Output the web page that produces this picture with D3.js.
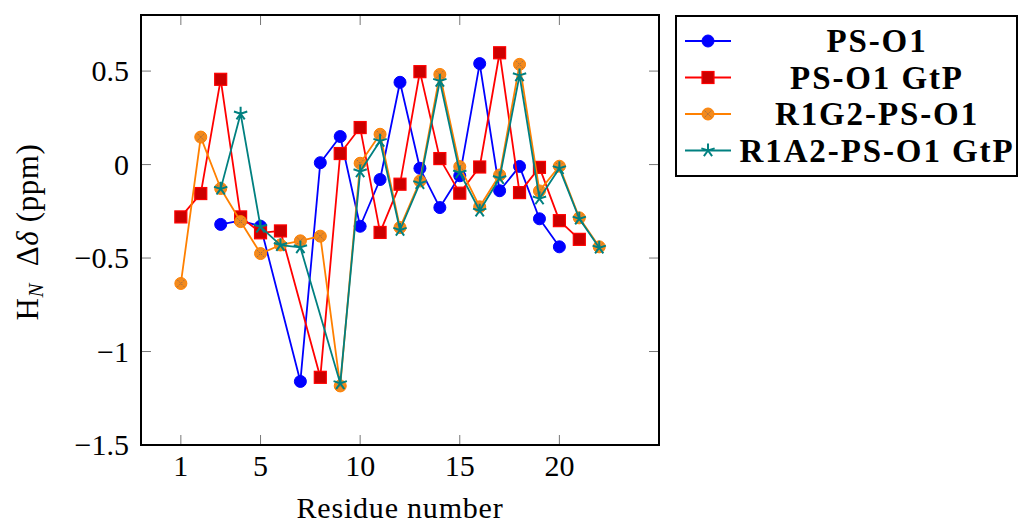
<!DOCTYPE html>
<html>
<head>
<meta charset="utf-8">
<script src="https://cdn.jsdelivr.net/npm/d3@7"></script>
<style>
  html, body { margin: 0; padding: 0; background: #fff; }
  svg { display: block; }
  text { font-family: "Liberation Serif", "Times New Roman", serif; fill: #000; }
</style>
</head>
<body>
<svg id="chart" width="1019" height="524"></svg>
<script>
// Residue numbers and chemical shift differences (ppm) per construct
const psO1Res      = [3, 4, 5, 7, 8, 9, 10, 11, 12, 13, 14, 15, 16, 17, 18, 19, 20];
const psO1Shift    = [-0.32, -0.30, -0.33, -1.16, 0.01, 0.15, -0.33, -0.08, 0.44, -0.02, -0.23, -0.06, 0.54, -0.14, -0.01, -0.29, -0.44];

const psO1GtpRes   = [1, 2, 3, 4, 5, 6, 8, 9, 10, 11, 12, 13, 14, 15, 16, 17, 18, 19, 20, 21];
const psO1GtpShift = [-0.28, -0.155, 0.456, -0.28, -0.365, -0.355, -1.138, 0.059, 0.198, -0.363, -0.105, 0.497, 0.032, -0.153, -0.013, 0.598, -0.15, -0.015, -0.30, -0.40];

const r1g2Res      = [1, 2, 3, 4, 5, 6, 7, 8, 9, 10, 11, 12, 13, 14, 15, 16, 17, 18, 19, 20, 21, 22];
const r1g2Shift    = [-0.636, 0.147, -0.128, -0.305, -0.476, -0.43, -0.408, -0.383, -1.184, 0.007, 0.162, -0.337, -0.088, 0.482, -0.011, -0.226, -0.056, 0.536, -0.141, -0.009, -0.285, -0.44];

const r1a2Res      = [3, 4, 5, 6, 7, 9, 10, 11, 12, 13, 14, 15, 16, 17, 18, 19, 20, 21, 22];
const r1a2Shift    = [-0.13, 0.272, -0.333, -0.431, -0.443, -1.17, -0.037, 0.126, -0.35, -0.10, 0.447, -0.043, -0.247, -0.073, 0.477, -0.182, -0.02, -0.29, -0.445];

const seriesNames  = ["PS-O1", "PS-O1 GtP", "R1G2-PS-O1", "R1A2-PS-O1 GtP"];
const xTickValues  = [1, 5, 10, 15, 20];
const yTickValues  = [-1.5, -1, -0.5, 0, 0.5];

const series = [
  { name: seriesNames[0], res: psO1Res,    val: psO1Shift,    color: "#0000ff", fill: "#0000ff", mark: "circle" },
  { name: seriesNames[1], res: psO1GtpRes, val: psO1GtpShift, color: "#ff0000", fill: "#cc0000", mark: "square" },
  { name: seriesNames[2], res: r1g2Res,    val: r1g2Shift,    color: "#ff8000", fill: "#f28a1e", mark: "otimes" },
  { name: seriesNames[3], res: r1a2Res,    val: r1a2Shift,    color: "#008080", fill: "#008080", mark: "star" }
];

const plot = { left: 141, right: 659, top: 15, bottom: 445 };
const svg = d3.select("#chart");

const x = d3.scaleLinear().domain([-1, 25]).range([plot.left, plot.right]);
const y = d3.scaleLinear().domain([-1.5, 0.8]).range([plot.bottom, plot.top]);

const fmt = v => (v < 0 ? "\u2212" : "") + d3.format("")(Math.abs(v));
const tickLen = 10;

// inward ticks on all four sides
const tickG = svg.append("g").attr("stroke", "#777").attr("stroke-width", 1);
xTickValues.forEach(v => {
  tickG.append("line").attr("x1", x(v)).attr("x2", x(v)).attr("y1", plot.bottom).attr("y2", plot.bottom - tickLen);
  tickG.append("line").attr("x1", x(v)).attr("x2", x(v)).attr("y1", plot.top).attr("y2", plot.top + tickLen);
});
yTickValues.forEach(v => {
  tickG.append("line").attr("x1", plot.left).attr("x2", plot.left + tickLen).attr("y1", y(v)).attr("y2", y(v));
  tickG.append("line").attr("x1", plot.right).attr("x2", plot.right - tickLen).attr("y1", y(v)).attr("y2", y(v));
});

// tick labels
svg.append("g").selectAll("text").data(xTickValues).join("text")
  .attr("x", d => x(d)).attr("y", 476)
  .attr("text-anchor", "middle").attr("font-size", 30)
  .text(fmt);
svg.append("g").selectAll("text").data(yTickValues).join("text")
  .attr("x", 129).attr("y", d => y(d) + 10)
  .attr("text-anchor", "end").attr("font-size", 30)
  .text(fmt);

// axis titles
svg.append("text").attr("x", 400).attr("y", 518)
  .attr("text-anchor", "middle").attr("font-size", 30).attr("letter-spacing", 0.8)
  .text("Residue number");

const yl = svg.append("text")
  .attr("transform", "translate(38,232) rotate(-90)")
  .attr("text-anchor", "middle").attr("font-size", 31).attr("letter-spacing", 0.6);
yl.append("tspan").text("H");
yl.append("tspan").attr("font-size", 21).attr("font-style", "italic").attr("dy", 5).text("N");
yl.append("tspan").attr("dy", -5).text("\u00a0\u00a0\u0394");
yl.append("tspan").attr("font-style", "italic").text("\u03b4");
yl.append("tspan").text("\u00a0(ppm)");

// marker drawing
function drawMark(g, s, cx, cy) {
  if (s.mark === "circle") {
    g.append("circle").attr("cx", cx).attr("cy", cy).attr("r", 6)
      .attr("fill", s.fill).attr("stroke", s.color).attr("stroke-width", 1);
  } else if (s.mark === "square") {
    g.append("rect").attr("x", cx - 6).attr("y", cy - 6).attr("width", 12).attr("height", 12)
      .attr("fill", s.fill).attr("stroke", s.color).attr("stroke-width", 1.2);
  } else if (s.mark === "otimes") {
    g.append("circle").attr("cx", cx).attr("cy", cy).attr("r", 6)
      .attr("fill", s.fill).attr("stroke", s.color).attr("stroke-width", 1);
    const d = 3.3;
    g.append("path")
      .attr("d", `M${cx - d},${cy - d}L${cx + d},${cy + d}M${cx - d},${cy + d}L${cx + d},${cy - d}`)
      .attr("stroke", "#9a6a4a").attr("stroke-width", 1).attr("stroke-dasharray", "1.5,1.2").attr("fill", "none");
  } else if (s.mark === "star") {
    const r = 7;
    let p = "";
    for (let k = 0; k < 5; k++) {
      const a = -Math.PI / 2 + k * 2 * Math.PI / 5;
      p += `M${cx},${cy}L${cx + r * Math.cos(a)},${cy + r * Math.sin(a)}`;
    }
    g.append("path").attr("d", p).attr("stroke", s.color).attr("stroke-width", 2).attr("fill", "none");
  }
}

// clip data to the plotting frame
svg.append("clipPath").attr("id", "clip").append("rect")
  .attr("x", plot.left).attr("y", plot.top)
  .attr("width", plot.right - plot.left).attr("height", plot.bottom - plot.top);

const dataG = svg.append("g").attr("clip-path", "url(#clip)");
const line = d3.line().x(d => x(d[0])).y(d => y(d[1]));

series.forEach(s => {
  const pts = s.res.map((r, i) => [r, s.val[i]]);
  const g = dataG.append("g");
  g.append("path").datum(pts).attr("d", line)
    .attr("fill", "none").attr("stroke", s.color).attr("stroke-width", 1.8).attr("stroke-linejoin", "round");
  pts.forEach(p => drawMark(g, s, x(p[0]), y(p[1])));
});

// frame
svg.append("rect").attr("x", plot.left).attr("y", plot.top)
  .attr("width", plot.right - plot.left).attr("height", plot.bottom - plot.top)
  .attr("fill", "none").attr("stroke", "#000").attr("stroke-width", 2);

// legend
const leg = { left: 676, top: 16, right: 1017, bottom: 176 };
svg.append("rect").attr("x", leg.left).attr("y", leg.top)
  .attr("width", leg.right - leg.left).attr("height", leg.bottom - leg.top)
  .attr("fill", "#fff").attr("stroke", "#000").attr("stroke-width", 2);
const rowY = [41, 77.5, 114, 150.5];
series.forEach((s, i) => {
  const g = svg.append("g");
  g.append("line").attr("x1", 685).attr("x2", 731).attr("y1", rowY[i]).attr("y2", rowY[i])
    .attr("stroke", s.color).attr("stroke-width", 1.8);
  drawMark(g, s, 708, rowY[i]);
  g.append("text").attr("x", 877).attr("y", rowY[i] + 11)
    .attr("text-anchor", "middle").attr("font-size", 33).attr("font-weight", "bold")
    .attr("letter-spacing", 1.9)
    .text(s.name);
});
</script>
</body>
</html>
